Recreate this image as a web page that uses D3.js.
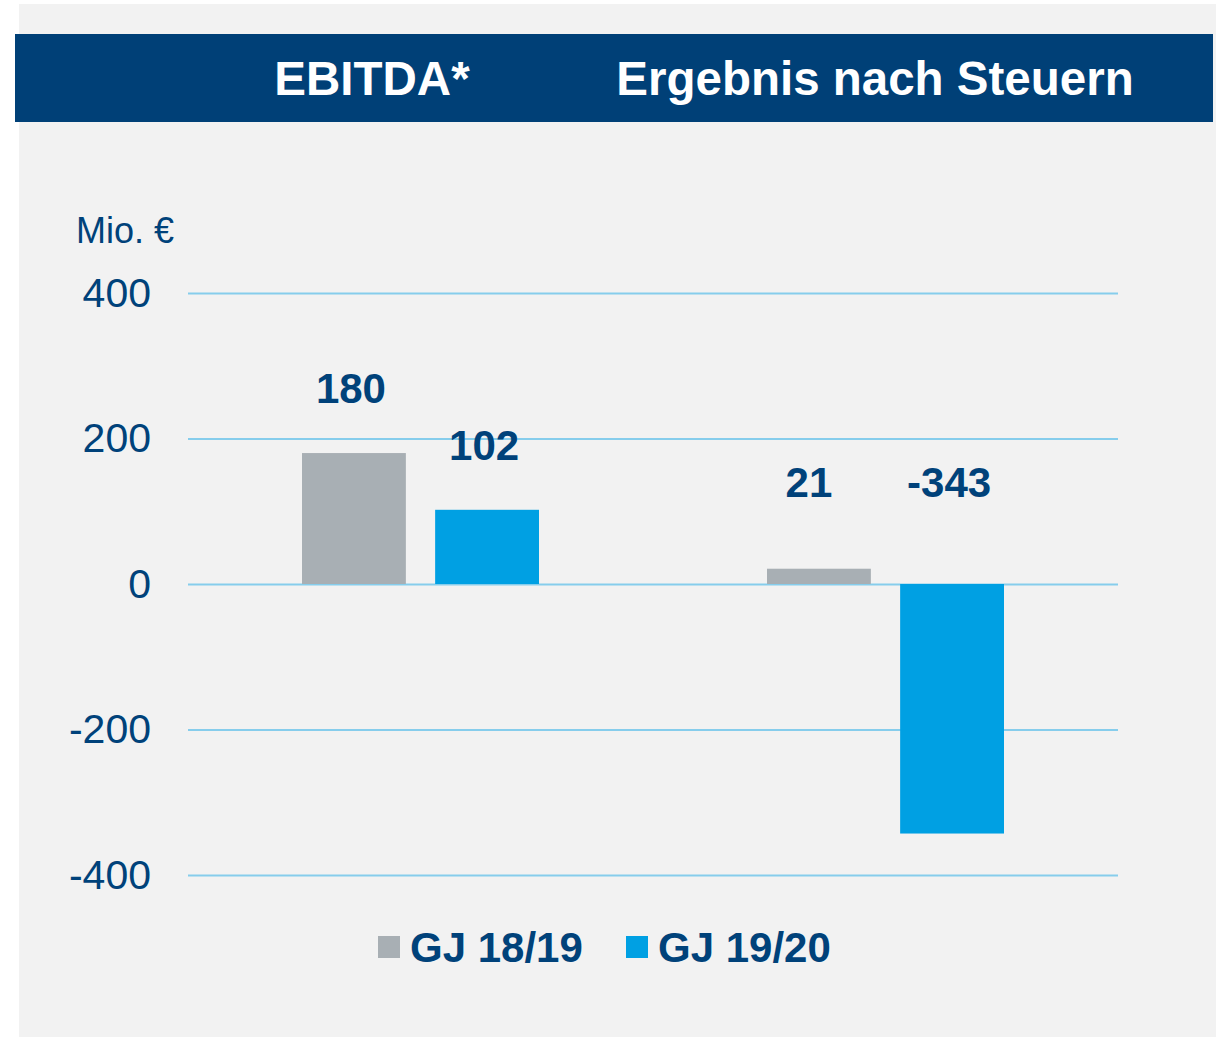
<!DOCTYPE html>
<html>
<head>
<meta charset="utf-8">
<script src="https://cdn.jsdelivr.net/npm/d3@7"></script>
<style>
  body { margin: 0; background: #fff; }
  text { font-family: "Liberation Sans", Arial, sans-serif; }
</style>
</head>
<body>
<div id="chart"></div>
<script>
// Chart data.
var categories = ["EBITDA*", "Ergebnis nach Steuern"];
var seriesNames = ["GJ 18/19", "GJ 19/20"];
var values1819 = [180, 21];
var values1920 = [102, -343];
var yTicks = [400, 200, 0, -200, -400];
var unitLabel = "Mio. €";

var colors = ["#a8afb4", "#00a0e3"];
var darkBlue = "#00427a";

var svgWidth = 1216;
var svgHeight = 1038;

var svg = d3.select("#chart").append("svg")
  .attr("width", svgWidth)
  .attr("height", svgHeight);

// Grey panel and header band.
svg.append("rect")
  .attr("x", 19).attr("y", 4)
  .attr("width", svgWidth - 19).attr("height", svgHeight - 5)
  .attr("fill", "#f2f2f2");

svg.append("rect")
  .attr("x", 15).attr("y", 34)
  .attr("width", 1198).attr("height", 88)
  .attr("fill", "#004077");

// Scales.
var xScale = d3.scaleBand()
  .domain(categories)
  .range([188, 1118]);

var xInner = d3.scaleBand()
  .domain(seriesNames)
  .range([0, 237])
  .paddingInner(0.22);

var yScale = d3.scaleLinear()
  .domain([-400, 400])
  .range([875, 293]);

// Header titles.
var headerX = [372, 875];
svg.selectAll(".header")
  .data(categories)
  .enter().append("text")
  .attr("class", "header")
  .attr("x", function(d, i) { return headerX[i]; })
  .attr("y", 95)
  .attr("text-anchor", "middle")
  .attr("fill", "#fff")
  .style("font-weight", "bold")
  .style("font-size", "47.5px")
  .text(function(d) { return d; });

// Gridlines and y-axis labels (plain hyphen for negatives).
var yAxis = d3.axisLeft(yScale)
  .tickValues(yTicks)
  .tickFormat(function(d) { return String(d); })
  .tickSize(-(1118 - 188))
  .tickPadding(37);

var axisG = svg.append("g")
  .attr("transform", "translate(188,0)")
  .call(yAxis);

axisG.select(".domain").remove();
axisG.selectAll(".tick line")
  .attr("stroke", "#86cdec")
  .attr("stroke-width", 2);
axisG.selectAll(".tick text")
  .attr("fill", darkBlue)
  .attr("dy", "0.32em")
  .style("font-family", "'Liberation Sans', Arial, sans-serif")
  .style("font-size", "41px");

svg.append("text")
  .attr("x", 76)
  .attr("y", 243)
  .attr("fill", darkBlue)
  .style("font-size", "36px")
  .text(unitLabel);

// Bars.
var barData = [];
categories.forEach(function(c, i) {
  barData.push({ category: c, series: seriesNames[0], value: values1819[i], color: colors[0] });
  barData.push({ category: c, series: seriesNames[1], value: values1920[i], color: colors[1] });
});

function barX(d) {
  return xScale(d.category) + (xScale.bandwidth() - xInner.range()[1]) / 2 + xInner(d.series);
}

svg.selectAll(".bar")
  .data(barData)
  .enter().append("rect")
  .attr("class", "bar")
  .attr("x", barX)
  .attr("width", xInner.bandwidth())
  .attr("y", function(d) { return yScale(Math.max(d.value, 0)); })
  .attr("height", function(d) { return Math.abs(yScale(d.value) - yScale(0)); })
  .attr("fill", function(d) { return d.color; });

// Value labels: above the bar, but no lower than a fixed height over zero.
svg.selectAll(".value")
  .data(barData)
  .enter().append("text")
  .attr("class", "value")
  .attr("x", function(d) {
    var shift = d.value < 0 || d.value > 50 ? -3 : -10;
    return barX(d) + xInner.bandwidth() / 2 + shift;
  })
  .attr("y", function(d) { return Math.min(yScale(Math.max(d.value, 0)) - 50, yScale(0) - 87); })
  .attr("text-anchor", "middle")
  .attr("fill", darkBlue)
  .style("font-weight", "bold")
  .style("font-size", "42px")
  .text(function(d) { return d.value; });

// Legend.
var legendX = [378, 626];
var legend = svg.selectAll(".legend")
  .data(seriesNames)
  .enter().append("g")
  .attr("class", "legend")
  .attr("transform", function(d, i) { return "translate(" + legendX[i] + ",936)"; });

legend.append("rect")
  .attr("width", 22)
  .attr("height", 22)
  .attr("fill", function(d, i) { return colors[i]; });

legend.append("text")
  .attr("x", 32)
  .attr("y", 26)
  .attr("fill", darkBlue)
  .style("font-weight", "bold")
  .style("font-size", "42px")
  .text(function(d) { return d; });
</script>
</body>
</html>
